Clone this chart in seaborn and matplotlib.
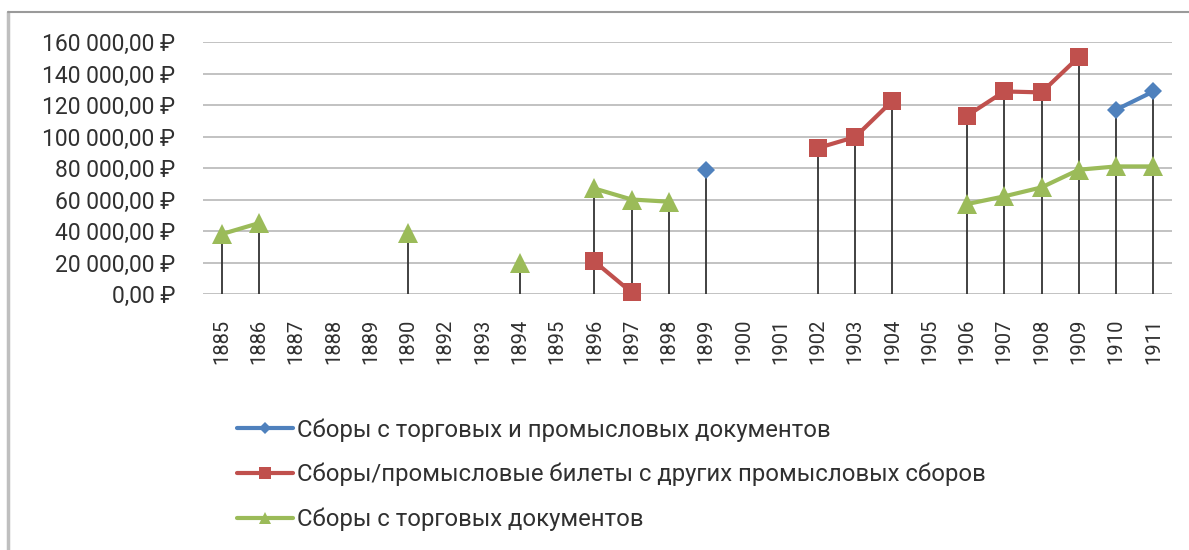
import numpy as np
import pandas as pd
import seaborn as sns
import matplotlib.pyplot as plt
from matplotlib.lines import Line2D

years = ['1885', '1886', '1887', '1888', '1889', '1890', '1892', '1893', '1894',
         '1895', '1896', '1897', '1898', '1899', '1900', '1901', '1902', '1903',
         '1904', '1905', '1906', '1907', '1908', '1909', '1910', '1911']

# values in rubles, None = no data for the year
trade_and_industry = [None, None, None, None, None, None, None, None, None,
                      None, None, None, None, 78500, None, None, None, None,
                      None, None, None, None, None, None, 117000, 128600]
other_industry = [None, None, None, None, None, None, None, None, None,
                  None, 20700, 1000, None, None, None, None, 92700, 99700,
                  122700, None, 113200, 128600, 128000, 150500, None, None]
trade_docs = [38000, 45000, None, None, None, 39000, None, None, 20000,
              None, 67000, 60000, 58600, None, None, None, None, None,
              None, None, 57100, 62000, 67700, 78900, 81000, 81000]

series_names = ['Сборы с торговых и промысловых документов',
                'Сборы/промысловые билеты с других промысловых сборов',
                'Сборы с торговых документов']
series_values = [trade_and_industry, other_industry, trade_docs]
colors = ['#4F81BD', '#C0504D', '#9BBB59']
markers = ['D', 's', '^']
marker_sizes = [9.5, 13, 14]

rows = []
for name, vals in zip(series_names, series_values):
    seg = 0
    prev = None
    for i, v in enumerate(vals):
        if v is None:
            prev = None
            continue
        if prev is None:
            seg += 1
        rows.append({'pos': i, 'value': v, 'series': name, 'seg': f'{name}-{seg}'})
        prev = v
df = pd.DataFrame(rows)

sns.set_style('white')
plt.rcParams['font.family'] = ['Roboto', 'DejaVu Sans']
text_color = '#303030'

fig = plt.figure(figsize=(11.89, 5.5), dpi=100)
ax = fig.add_axes([203 / 1189, 1 - 294 / 550, (1172 - 203) / 1189, (294 - 42) / 550])

# drop lines from the highest point of each year down to zero
tops = df.groupby('pos')['value'].max()
ax.vlines(tops.index, 0, tops.values, color='#333333', lw=1.3, zorder=1)

for name, color, mk, ms in zip(series_names, colors, markers, marker_sizes):
    sub = df[df['series'] == name]
    sns.lineplot(data=sub, x='pos', y='value', units='seg', estimator=None,
                 sort=False, color=color, marker=mk, markersize=ms,
                 markeredgewidth=0, lw=3, ax=ax, clip_on=False, zorder=3)

ax.set_xlim(-0.5, len(years) - 0.5)
ax.set_ylim(0, 160000)
ax.set_yticks(np.arange(0, 160001, 20000))
ax.set_yticklabels([f'{v:,.2f}'.replace(',', ' ').replace('.', ',') + ' ₽'
                    for v in np.arange(0, 160001, 20000)])
ax.set_xticks(range(len(years)))
ax.set_xticklabels(years, rotation=90)
ax.tick_params(axis='y', length=0, pad=20, labelsize=16.5, labelcolor=text_color)
ax.tick_params(axis='x', length=0, pad=18, labelsize=14.5, labelcolor=text_color)
ax.set_xlabel('')
ax.set_ylabel('')
ax.grid(axis='y', color='#BDBDBD', lw=1.3)
ax.set_axisbelow(True)
for s in ax.spines.values():
    s.set_visible(False)

handles = [Line2D([], [], color=c, marker=m, markersize=ms * 0.65, lw=3,
                  markeredgewidth=0)
           for c, m, ms in zip(colors, markers, marker_sizes)]
fig.legend(handles, series_names, loc='upper left',
           bbox_to_anchor=(237 / 1189, 1 - 418 / 550), frameon=False,
           borderpad=0, borderaxespad=0,
           fontsize=17.2, labelcolor=text_color, handlelength=2.35,
           handletextpad=0.16, labelspacing=0.89)

# chart frame (left and top edges visible in the crop)
fig.add_artist(Line2D([8 / 1189, 8 / 1189], [0, 1 - 12 / 550], color='#BFBFBF', lw=2.5))
fig.add_artist(Line2D([8 / 1189, 1], [1 - 12 / 550, 1 - 12 / 550], color='#9a9a9a', lw=1.5))

fig.savefig('out.png', dpi=100)
